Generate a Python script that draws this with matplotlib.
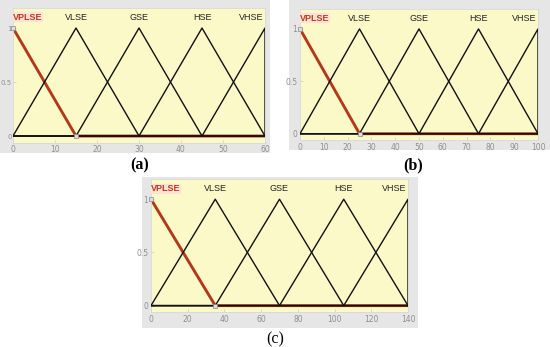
import matplotlib
matplotlib.use("Agg")
import matplotlib.pyplot as plt
from matplotlib.patches import Rectangle

# ---- data ----
mf_names = ["VPLSE", "VLSE", "GSE", "HSE", "VHSE"]
peaks_a = [0, 15, 30, 45, 60]
peaks_b = [0, 25, 50, 75, 100]
peaks_c = [0, 35, 70, 105, 140]
xticks_a = [0, 10, 20, 30, 40, 50, 60]
xticks_b = [0, 10, 20, 30, 40, 50, 60, 70, 80, 90, 100]
xticks_c = [0, 20, 40, 60, 80, 100, 120, 140]
yticks = [0, 0.5, 1]
ytick_labels = ["0", "0.5", "1"]
panel_labels = ["(a)", "(b)", "(c)"]

W, H = 550, 347
fig = plt.figure(figsize=(W / 100, H / 100), dpi=100)
fig.patch.set_facecolor("white")

def px_rect(x0, y0, x1, y1):
    return [x0 / W, 1 - y1 / H, (x1 - x0) / W, (y1 - y0) / H]

# gray panel backgrounds
for (x0, y0, x1, y1) in [(0, 0, 270, 153), (289, 0, 550, 150), (142, 177, 418, 328)]:
    fig.patches.append(Rectangle((x0 / W, 1 - y1 / H), (x1 - x0) / W, (y1 - y0) / H,
                                 transform=fig.transFigure, facecolor="#e6e6e6",
                                 edgecolor="none", zorder=-10))

axes_px = [(13, 7.5, 265, 142.5), (300, 9, 538, 140), (151, 179, 408, 312)]
peaks_all = [peaks_a, peaks_b, peaks_c]
xticks_all = [xticks_a, xticks_b, xticks_c]

red = "#b23a1c"
for k in range(3):
    x0, y0, x1, y1 = axes_px[k]
    ax = fig.add_axes(px_rect(x0, y0, x1, y1), zorder=1)
    ax.set_facecolor("#fcf9c8")
    peaks = peaks_all[k]
    xmax = peaks[-1]
    ax.set_xlim(0, xmax)
    ax.set_ylim(-0.06, 1.19)
    # VPLSE (selected, red)
    ax.plot([0, peaks[1], xmax], [1, 0, 0], color=red, lw=2.1, zorder=2,
            solid_capstyle="butt")
    # other MFs
    for i in range(1, len(peaks)):
        left = peaks[i - 1]
        p = peaks[i]
        right = peaks[i + 1] if i + 1 < len(peaks) else p
        xs = [0, left, p, right, xmax]
        ys = [0, 0, 1, 0, 0]
        ax.plot(xs, ys, color="#111111", lw=1.0, zorder=3)
    ax.plot([0, peaks[1]], [1, 0], ls="none", marker="s", ms=2.5,
            mfc="#dddddd", mec="#888888", mew=0.5, zorder=4, clip_on=False)
    # MF names
    for i, name in enumerate(mf_names):
        if i == 0:
            ax.text(0, 1.1, name, ha="left", va="center", fontsize=6.5,
                    color="#c0391f", fontweight="bold", family="Liberation Sans",
                    bbox=dict(facecolor="#fde3d6", edgecolor="none", pad=0.3))
        elif i == len(mf_names) - 1:
            ax.text(xmax * 0.995, 1.1, name, ha="right", va="center", fontsize=6.5,
                    color="#222222", family="Liberation Sans")
        else:
            ax.text(peaks[i], 1.1, name, ha="center", va="center", fontsize=6.5,
                    color="#222222", family="Liberation Sans")
    ax.set_xticks(xticks_all[k])
    ax.set_yticks(yticks)
    ax.set_yticklabels(ytick_labels)
    ax.tick_params(labelsize=5.5, colors="#c8c8c8", labelcolor="#8f8f8f",
                   length=2, width=0.5, direction="in", pad=2)
    if k == 0:
        ax.tick_params(axis="y", pad=0.8, labelsize=5.0)
    for s in ax.spines.values():
        s.set_color("#d8d8d8")
        s.set_linewidth(0.6)

fig.text(140 / W, 1 - 165 / H, panel_labels[0], ha="center", va="center",
         fontsize=11.5, fontweight="bold", family="Liberation Serif")
fig.text(413 / W, 1 - 165 / H, panel_labels[1], ha="center", va="center",
         fontsize=11.5, fontweight="bold", family="Liberation Serif")
fig.text(275 / W, 1 - 339 / H, panel_labels[2], ha="center", va="center",
         fontsize=11.5, family="Liberation Serif")

fig.savefig("out.png", dpi=100, facecolor="white")
